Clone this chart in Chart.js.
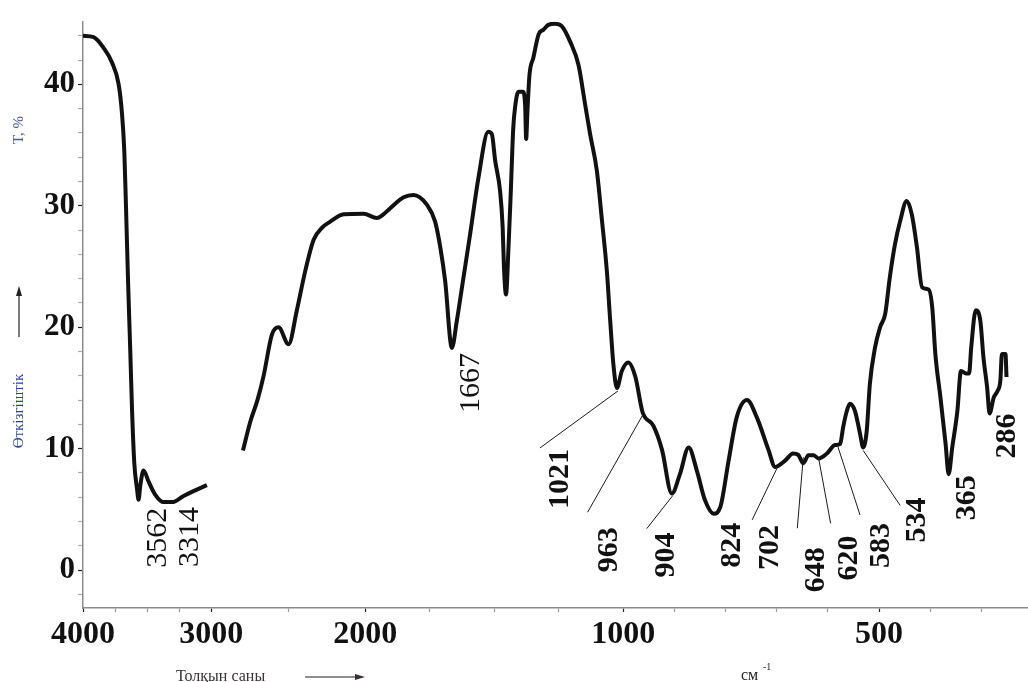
<!DOCTYPE html>
<html><head><meta charset="utf-8">
<script src="https://cdn.jsdelivr.net/npm/chart.js@4.4.1/dist/chart.umd.min.js"></script>
<style>html,body{margin:0;padding:0;background:#fff;}canvas{display:block;}</style>
</head><body>
<canvas id="c" width="1028" height="682"></canvas>
<script>
// ---- data ----
const WAVENUMBERS = [
  4000,3917,3839,3774,3722,3696,3678,3665,3649,3631,3618,3600,3579,3567,3553,3528,3489,3436,3372,3306,3216,3138,3034,
  2900,
  2794,2747,2700,2660,2606,2563,2498,2444,2390,2335,2280,2227,2140,2010,1955,1935,1903,1851,1813,1761,1729,1709,1690,1664,1645,1619,1593,1561,
  1523,1509,1496,1477,1467,1462,1454,1445,1436,1426,1419,1406,1389,1380,1376,1371,1363,1348,1328,1309,1290,1264,1238,1205,1173,1147,1128,1102,1083,1063,1050,1038,1024,
  1005,990,976,962,941,924,905,889,872,856,840,823,810,794,778,758,739,716,703,684,668,658,648,638,628,618,602,586,576,570,563,557,547,537,531,524,518,508,498,488,479,469,459,446,436,426,416,403,396,390,380,370,364,357,347,340,330,324,320,311,302,296,289,284,276,268,263,260,253,251
];
const TRANSMITTANCE = [
  44.0,43.9,43.0,41.8,40.0,37.6,34.5,30.0,23.9,17.9,13.3,8.8,6.7,5.8,7.0,8.2,7.3,6.2,5.6,5.6,6.1,6.5,7.0,
  null,
  9.85,12.2,14.0,16.0,19.4,20.0,18.6,21.4,24.6,27.2,28.2,28.7,29.3,29.35,29.0,29.2,29.8,30.7,30.9,30.1,28.7,26.6,23.8,18.3,20.5,24.1,27.7,32.3,
  36.1,35.9,33.7,31.2,28.2,24.9,22.7,26.3,30.9,36.4,38.1,39.4,39.4,38.3,35.5,37.8,40.8,42.2,44.1,44.5,44.9,45.0,44.8,43.5,41.6,38.3,35.9,32.9,29.0,24.6,20.5,17.0,15.0,
  16.4,17.1,15.9,13.0,11.9,9.9,6.3,7.9,10.1,8.2,5.75,4.65,5.2,9.0,12.6,14.0,12.6,9.9,8.5,9.0,9.6,9.5,8.8,9.45,9.45,9.2,9.6,10.3,10.4,11.8,13.1,13.7,13.1,11.2,10.1,11.5,15.3,18.3,20.0,21.1,24.1,26.8,28.7,30.4,29.3,26.6,23.3,23.1,21.6,17.8,14.2,10.4,7.9,10.1,13.1,16.4,16.2,16.2,18.3,21.4,20.5,17.5,15.1,12.9,14.2,14.8,15.6,17.8,17.8,15.9
];
const X_TICKS = [4000,3750,3500,3250,3000,2500,2000,1750,1500,1250,1000,900,800,700,600,500,400,300];
const X_TICK_LABELS = [4000,3000,2000,1000,500];
const Y_TICKS = [-2,0,2,4,6,8,10,12,14,16,18,20,22,24,26,28,30,32,34,36,38,40,42,44];
const PEAK_LABELS = ['3562','3314','1667','1021','963','904','824','702','648','620','583','534','365','286'];
const PEAK_WN = [3567,3306,1664,1024,962,905,823,703,648,618,586,531,364,284];
const PEAK_T  = [5.8,5.6,18.3,15.0,13.0,6.3,4.65,8.5,8.8,9.2,10.3,10.1,7.9,12.9];

// ---- axis shape (wavenumber -> relative position along the axis) ----
const X_KNOTS_WN  = [4000,3000,2000,1000,500,209];
const X_KNOTS_POS = [0,128.3,282.3,540.3,796.3,945.3];
const X_MIN = 209, X_MAX = 4000, Y_MIN = -3.12, Y_MAX = 45.17;

// ---- label layout (pixel offsets from the peak point) ----
const LABEL_LAYOUT = [
  {dx:20,dy:8,bold:false},
  {dx:18,dy:5,bold:false},
  {dx:19,dy:5,bold:false},
  {dx:-57,dy:61,bold:true,line:[1,3,-77,60]},
  {dx:-33,dy:115,bold:true,line:[0,3,-55,100]},
  {dx:-6,dy:39,bold:true,line:[1,2,-25,35]},
  {dx:19,dy:9,bold:true},
  {dx:-5,dy:58,bold:true,line:[2,1,-23,53]},
  {dx:13,dy:84,bold:true,line:[0,-6,-6,65]},
  {dx:31,dy:77,bold:true,line:[0,0,12,65]},
  {dx:46,dy:78,bold:true,line:[3,2,25,70]},
  {dx:54,dy:50,bold:true,line:[0,3,37,58]},
  {dx:19,dy:1,bold:true},
  {dx:18,dy:0,bold:true}
];

function wnToDecimal(v){
  const total = X_KNOTS_POS[X_KNOTS_POS.length-1];
  for (let i=0;i<X_KNOTS_WN.length-1;i++){
    const a=X_KNOTS_WN[i], b=X_KNOTS_WN[i+1];
    if (v<=a && v>=b || i===X_KNOTS_WN.length-2 || (i===0 && v>a)){
      const t=(a-v)/(a-b);
      return (X_KNOTS_POS[i]+t*(X_KNOTS_POS[i+1]-X_KNOTS_POS[i]))/total;
    }
  }
  return 0;
}
function decimalToWn(d){
  const total = X_KNOTS_POS[X_KNOTS_POS.length-1];
  const p=d*total;
  for (let i=0;i<X_KNOTS_POS.length-1;i++){
    if (p<=X_KNOTS_POS[i+1] || i===X_KNOTS_POS.length-2){
      const t=(p-X_KNOTS_POS[i])/(X_KNOTS_POS[i+1]-X_KNOTS_POS[i]);
      return X_KNOTS_WN[i]+t*(X_KNOTS_WN[i+1]-X_KNOTS_WN[i]);
    }
  }
  return X_MIN;
}

class WaveScale extends Chart.LinearScale {
  buildTicks(){
    this.start=this.min; this.end=this.max;
    return X_TICKS.map(v=>({value:v}));
  }
  getPixelForValue(value){ return this.getPixelForDecimal(wnToDecimal(value)); }
  getValueForPixel(pixel){ return decimalToWn(this.getDecimalForPixel(pixel)); }
}
WaveScale.id='wave';
WaveScale.defaults=Chart.LinearScale.defaults;
Chart.register(WaveScale);

const SERIF="'Liberation Serif','Times New Roman',serif";

const annotPlugin = {
  id:'annot',
  afterDatasetsDraw(chart){
    const {ctx, scales:{x,y}} = chart;
    ctx.save();
    PEAK_LABELS.forEach((txt,i)=>{
      const px=x.getPixelForValue(PEAK_WN[i]);
      const py=y.getPixelForValue(PEAK_T[i]);
      const o=LABEL_LAYOUT[i];
      if (o.line){
        ctx.beginPath();
        ctx.strokeStyle='#1a1a1a';
        ctx.lineWidth=1;
        ctx.moveTo(px+o.line[0],py+o.line[1]);
        ctx.lineTo(px+o.line[2],py+o.line[3]);
        ctx.stroke();
      }
      ctx.save();
      ctx.translate(px+o.dx,py+o.dy);
      ctx.rotate(-Math.PI/2);
      ctx.font=(o.bold?'bold ':'')+'30px '+SERIF;
      ctx.fillStyle='#111';
      ctx.textAlign='right';
      ctx.textBaseline='middle';
      ctx.fillText(txt,0,0);
      ctx.restore();
    });
    ctx.restore();
  },
  afterDraw(chart){
    const ctx=chart.ctx;
    ctx.save();
    // y title pieces
    ctx.font='15px '+SERIF;
    ctx.textAlign='center'; ctx.textBaseline='middle';
    ctx.save(); ctx.translate(19,130); ctx.rotate(-Math.PI/2);
    ctx.fillStyle='#4a5a92'; ctx.fillText('T, %',0,0); ctx.restore();
    ctx.save(); ctx.translate(19,411); ctx.rotate(-Math.PI/2);
    ctx.fillStyle='#2f45a0'; ctx.fillText('Өткізгіштік',0,0); ctx.restore();
    // vertical arrow
    ctx.strokeStyle='#222'; ctx.fillStyle='#222'; ctx.lineWidth=1.2;
    ctx.beginPath(); ctx.moveTo(19,337); ctx.lineTo(19,294); ctx.stroke();
    ctx.beginPath(); ctx.moveTo(19,286); ctx.lineTo(16,296); ctx.lineTo(22,296); ctx.closePath(); ctx.fill();
    // x title pieces
    ctx.font='16px '+SERIF; ctx.textAlign='left'; ctx.textBaseline='alphabetic';
    ctx.fillStyle='#3a3232'; ctx.fillText('Толқын саны',176,681);
    ctx.beginPath(); ctx.moveTo(305,677); ctx.lineTo(356,677); ctx.stroke();
    ctx.beginPath(); ctx.moveTo(365,677); ctx.lineTo(355,674); ctx.lineTo(355,680); ctx.closePath(); ctx.fill();
    ctx.fillStyle='#222'; ctx.fillText('см',741,680);
    ctx.font='10px '+SERIF; ctx.fillText('-1',763,670);
    ctx.restore();
  }
};

const points = WAVENUMBERS.map((w,i)=>({x:w,y:TRANSMITTANCE[i]}));

new Chart(document.getElementById('c'),{
  type:'line',
  data:{datasets:[{
    data:points,
    borderColor:'#111',
    borderWidth:4,
    pointRadius:0,
    cubicInterpolationMode:'monotone',
    spanGaps:false,
    fill:false
  }]},
  options:{
    responsive:false,
    animation:false,
    devicePixelRatio:1,
    events:[],
    layout:{padding:{top:20,right:0,left:0,bottom:0}},
    plugins:{legend:{display:false},tooltip:{enabled:false},title:{display:false}},
    scales:{
      x:{
        type:'wave',
        min:X_MIN, max:X_MAX,
        afterFit:s=>{s.height=74;},
        grid:{drawOnChartArea:false,drawTicks:true,tickLength:4,
          tickColor:c=>(c.tick && X_TICK_LABELS.includes(c.tick.value))?'#222':'#999',tickWidth:1.2},
        border:{display:true,color:'#8c8c8c',width:1.5},
        ticks:{autoSkip:false,maxRotation:0,minRotation:0,padding:4,color:'#111',
          font:{family:SERIF,size:32,weight:'bold'},
          callback:v=>X_TICK_LABELS.includes(v)?String(v):''}
      },
      y:{
        type:'linear',
        min:Y_MIN, max:Y_MAX,
        afterBuildTicks:s=>{s.ticks=Y_TICKS.map(v=>({value:v}));},
        afterFit:s=>{s.width=83;},
        grid:{drawOnChartArea:false,drawTicks:true,tickLength:5,
          tickColor:c=>(c.tick && c.tick.value%10===0)?'#222':'#aaa',tickWidth:1.2},
        border:{display:true,color:'#8c8c8c',width:1.5},
        ticks:{autoSkip:false,padding:3,color:'#111',
          font:{family:SERIF,size:31,weight:'bold'},
          callback:v=>(v%10===0)?String(v):''}
      }
    }
  },
  plugins:[annotPlugin]
});
</script>
</body></html>
